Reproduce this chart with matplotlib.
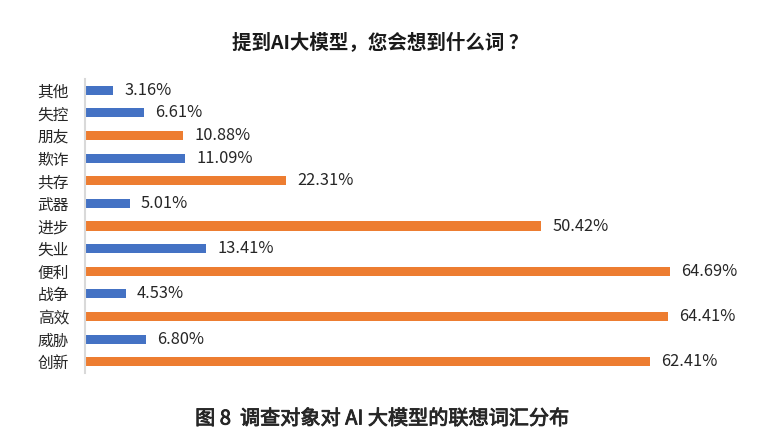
import matplotlib
matplotlib.use("Agg")
import matplotlib.pyplot as plt
import matplotlib.patheffects as pe

plt.rcParams['font.family'] = ['Noto Sans CJK SC', 'DejaVu Sans']

categories = ["其他", "失控", "朋友", "欺诈", "共存", "武器", "进步", "失业",
              "便利", "战争", "高效", "威胁", "创新"]
values = [3.16, 6.61, 10.88, 11.09, 22.31, 5.01, 50.42, 13.41,
          64.69, 4.53, 64.41, 6.80, 62.41]
tone = ["neg", "neg", "pos", "neg", "pos", "neg", "pos", "neg",
        "pos", "neg", "pos", "neg", "pos"]
tone_colors = {"neg": "#4472C4", "pos": "#ED7D31"}
title = "提到AI大模型，您会想到什么词 ？"
caption = "图 8  调查对象对 AI 大模型的联想词汇分布"

W, H = 778, 442
fig = plt.figure(figsize=(W / 100, H / 100), dpi=100)
left_px, right_px, top_px, bot_px = 84.5, 740, 79, 373
ax = fig.add_axes([left_px / W, (H - bot_px) / H,
                   (right_px - left_px) / W, (bot_px - top_px) / H])
px_per_unit = 9.054
ax.set_xlim(0, (right_px - left_px) / px_per_unit)

ypos = list(range(len(categories)))
colors = [tone_colors[t] for t in tone]
ax.barh(ypos, values, height=0.4, color=colors)
ax.set_ylim(len(categories) - 0.5, -0.5)
ax.set_yticks(ypos)
ax.set_yticklabels(categories, fontsize=11.3, color="#262626")
ax.tick_params(axis='y', length=0, pad=11)
ax.set_xticks([])
for s in ["top", "right", "bottom"]:
    ax.spines[s].set_visible(False)
ax.spines["left"].set_color("#d9d9d9")
ax.spines["left"].set_linewidth(1.5)

for y, v in zip(ypos, values):
    ax.annotate(f"{v:.2f}%", xy=(v, y), xytext=(8, 0), textcoords="offset points",
                va="center", ha="left", fontsize=11.8, color="#262626")

fig.text(380 / W, 1 - 43 / H, title, ha="center", va="center",
         fontsize=14, fontweight="bold", color="#1a1a1a")
fig.text(382 / W, 1 - 419 / H, caption, ha="center", va="center",
         fontsize=14.5, fontweight="normal", color="#262626",
         path_effects=[pe.withStroke(linewidth=0.6, foreground="#262626")])

fig.savefig("out.png", dpi=100)
